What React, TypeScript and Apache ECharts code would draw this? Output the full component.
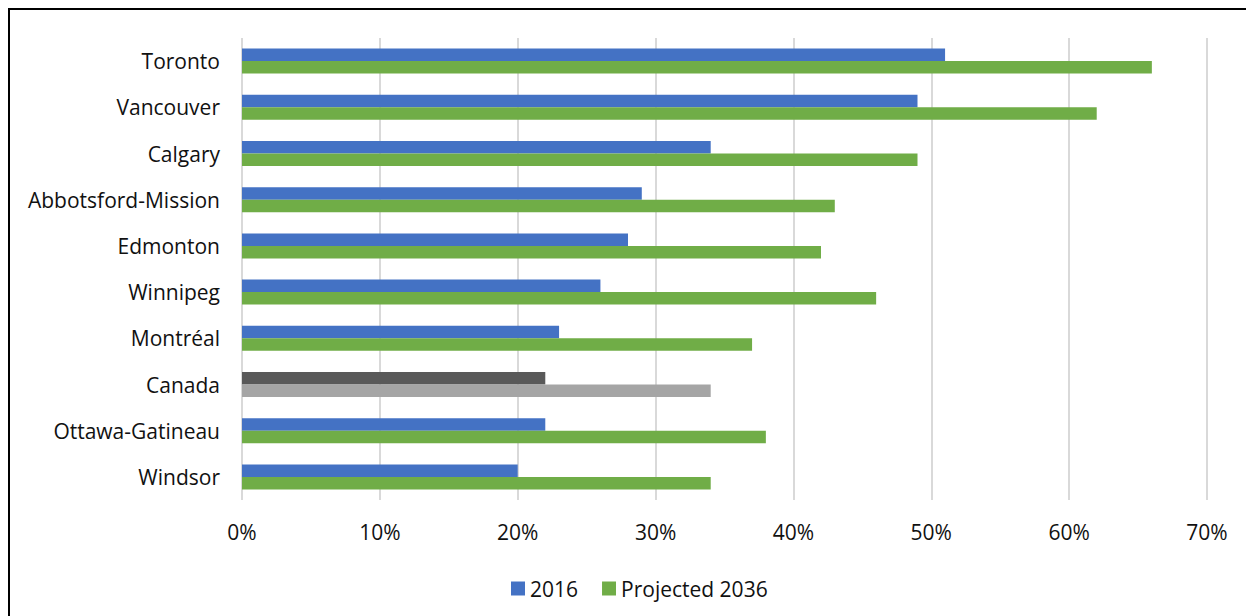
import React, { useEffect, useRef } from "react";
import * as echarts from "echarts";

const cities = [
  "Toronto",
  "Vancouver",
  "Calgary",
  "Abbotsford-Mission",
  "Edmonton",
  "Winnipeg",
  "Montréal",
  "Canada",
  "Ottawa-Gatineau",
  "Windsor",
];
const values2016 = [51, 49, 34, 29, 28, 26, 23, 22, 22, 20];
const values2036 = [66, 62, 49, 43, 42, 46, 37, 34, 38, 34];
const seriesNames = ["2016", "Projected 2036"];
const highlightCity = "Canada";

const FONT = "'Open Sans', 'Noto Sans', sans-serif";

export default function App() {
  const ref = useRef<HTMLDivElement>(null);
  useEffect(() => {
    if (!ref.current) return;
    document.documentElement.style.overflow = "hidden";
    document.body.style.overflow = "hidden";
    const chart = echarts.init(ref.current, undefined, { renderer: "svg" });
    const blue = "#4472c4";
    const green = "#70ad47";
    const mk = (vals: number[], base: string, hi: string) =>
      vals.map((v, i) =>
        cities[i] === highlightCity ? { value: v, itemStyle: { color: hi } } : { value: v, itemStyle: { color: base } }
      );
    chart.setOption({
      animation: false,
      textStyle: { fontFamily: FONT },
      grid: { left: 232, right: 47, top: 28, bottom: 116, containLabel: false },
      legend: {
        left: 496,
        top: 563,
        itemWidth: 14,
        itemHeight: 14,
        itemGap: 24,
        icon: "rect",
        textStyle: { fontSize: 21, color: "#111", fontFamily: FONT },
        data: seriesNames,
      },
      xAxis: {
        type: "value",
        min: 0,
        max: 70,
        interval: 10,
        axisLine: { show: false },
        axisTick: { show: false },
        axisLabel: {
          formatter: "{value}%",
          fontSize: 21,
          color: "#111",
          margin: 21,
          fontFamily: FONT,
        },
        splitLine: { show: true, lineStyle: { color: "#d9d9d9", width: 2 } },
      },
      yAxis: {
        type: "category",
        data: cities,
        inverse: true,
        axisLine: { show: false },
        axisTick: { show: false },
        axisLabel: { fontSize: 21, color: "#111", margin: 22, fontFamily: FONT },
      },
      series: [
        {
          name: seriesNames[0],
          type: "bar",
          data: mk(values2016, blue, "#595959"),
          itemStyle: { color: blue },
          barWidth: 12.5,
          barGap: "0%",
        },
        {
          name: seriesNames[1],
          type: "bar",
          data: mk(values2036, green, "#a5a5a5"),
          itemStyle: { color: green },
          barWidth: 12.5,
          barGap: "0%",
        },
      ],
    });
    return () => chart.dispose();
  }, []);
  return (
    <div
      ref={ref}
      style={{
        width: 1246,
        height: 608,
        boxSizing: "border-box",
        borderTop: "2px solid #000",
        borderLeft: "2px solid #000",
        background: "#fff",
      }}
    />
  );
}
